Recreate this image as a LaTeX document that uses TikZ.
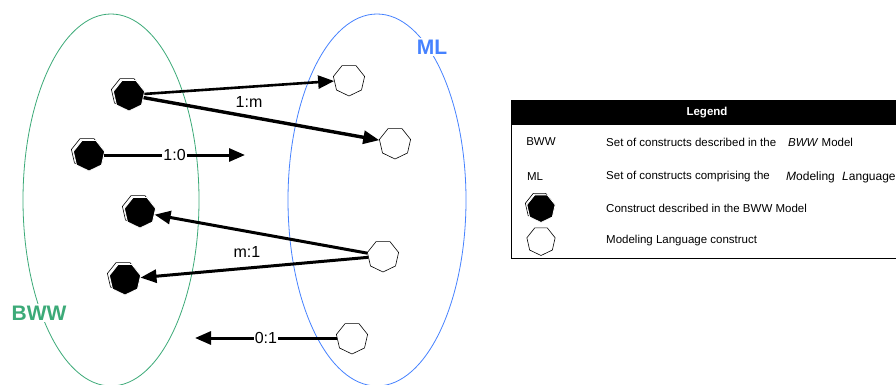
\documentclass[tikz,border=0pt]{standalone}
\usepackage{fontspec}
\setmainfont{Liberation Sans}
\usetikzlibrary{shapes.geometric,arrows.meta}
\definecolor{bwwgreen}{RGB}{60,170,120}
\definecolor{mlblue}{RGB}{70,130,255}
\begin{document}
\begin{tikzpicture}[x=1pt,y=-1pt,
  hepta/.style={regular polygon,regular polygon sides=7,shape border rotate=180,minimum size=32pt,inner sep=0pt},
  wnode/.style={hepta,draw=black,line width=0.6pt,fill=white},
  bnode/.style={hepta,fill=black,draw=white,line width=0.8pt},
  bshadow/.style={hepta,draw=black,line width=0.6pt,fill=white},
  conn/.style={line width=3pt,-{Triangle[length=16pt,width=13pt]}},
  lbl/.style={font=\fontsize{16}{18}\selectfont,inner sep=1pt},
  setlbl/.style={font=\bfseries\fontsize{21}{24}\selectfont,fill=white,inner sep=1.5pt},
  legtxt/.style={font=\fontsize{11.5}{13}\selectfont,inner sep=0pt}]
\clip (0,0) rectangle (896,385);
\fill[white] (0,0) rectangle (896,385);
% sets
\draw[bwwgreen,line width=0.8pt] (111,200) ellipse [x radius=88, y radius=186];
\draw[mlblue,line width=0.8pt] (377,200) ellipse [x radius=89, y radius=186];
\node[setlbl,text=bwwgreen] (bwwlbl) at (39,313) {BWW};
\node[setlbl,text=mlblue] (mllbl) at (432,47) {ML};
% BWW constructs
\node[bshadow] (b1s) at (127,93) {};
\node[bnode] (b1) at (129,95) {};
\node[bshadow] (b2s) at (87,153) {};
\node[bnode] (b2) at (89,155) {};
\node[bshadow] (b3s) at (138,210) {};
\node[bnode] (b3) at (140,212) {};
\node[bshadow] (b4s) at (123,277) {};
\node[bnode] (b4) at (125,279) {};
% ML constructs
\node[wnode] (w1) at (349,80) {};
\node[wnode] (w2) at (395,143) {};
\node[wnode] (w3) at (383,256) {};
\node[wnode] (w4) at (352,338) {};
\coordinate (c10) at (245,155);
\coordinate (c01) at (195,338);
% connectors
\draw[conn,line width=2.6pt] (b1) -- (w1);
\draw[conn,line width=3.4pt] (b1) -- (w2);
\node[lbl] (l1m) at (249,102) {1:m};
\draw[conn] (b2) -- node[lbl,fill=white] (l10) {1:0} (c10);
\draw[conn] (w3) -- (b3);
\draw[conn] (w3) -- (b4);
\node[lbl] (lm1) at (247,252) {m:1};
\draw[conn] (w4) -- node[lbl,fill=white] (l01) {0:1} (c01);
% legend
\draw[line width=1pt] (511,101) rectangle (903,258);
\fill[black] (511,101) rectangle (903,125);
\node[legtxt,text=white,font=\bfseries\fontsize{11.5}{13}\selectfont] (legtitle) at (707,113) {Legend};
\node[legtxt] (lg1a) at (541,142) {BWW};
\node[legtxt,anchor=west] (lg1b) at (606,142) {Set of constructs described in the};
\node[legtxt,anchor=west] (lg1c) at (788,142) {\textit{BWW} Model};
\node[legtxt] (lg2a) at (535,177) {ML};
\node[legtxt,anchor=west] (lg2b) at (606,177) {Set of constructs comprising the};
\node[legtxt,anchor=west,font=\fontsize{12}{13}\selectfont] (lg2c) at (786,177) {\textit{M}odeling\hspace{4pt} \textit{L}anguage};
\node[bshadow,minimum size=29pt] (lg3s) at (539.5,206.5) {};
\node[bnode,minimum size=29pt] (lg3a) at (541,208) {};
\node[legtxt,anchor=west] (lg3b) at (606,208) {Construct described in the BWW Model};
\node[wnode,minimum size=29pt] (lg4a) at (541,241) {};
\node[legtxt,anchor=west] (lg4b) at (606,241) {Modeling Language construct};
\end{tikzpicture}
\end{document}
